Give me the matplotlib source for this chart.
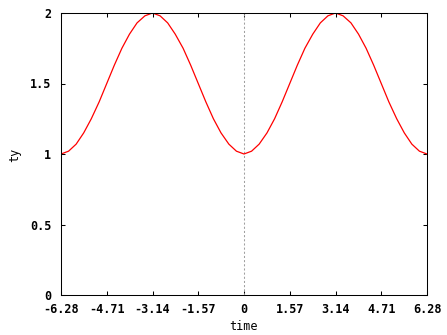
import matplotlib
matplotlib.use("Agg")
import matplotlib.pyplot as plt

# samples
time = [-6.28, -6.02, -5.76, -5.50, -5.24, -4.97, -4.71, -4.45, -4.19, -3.93, -3.67, -3.40,
        -3.14, -2.88, -2.62, -2.36, -2.09, -1.83, -1.57, -1.31, -1.05, -0.79, -0.52, -0.26,
        0.00, 0.26, 0.52, 0.79, 1.05, 1.31, 1.57, 1.83, 2.09, 2.36, 2.62, 2.88,
        3.14, 3.40, 3.67, 3.93, 4.19, 4.45, 4.71, 4.97, 5.24, 5.50, 5.76, 6.02, 6.28]
ty = [1.00, 1.02, 1.07, 1.15, 1.25, 1.37, 1.50, 1.63, 1.75, 1.85, 1.93, 1.98,
      2.00, 1.98, 1.93, 1.85, 1.75, 1.63, 1.50, 1.37, 1.25, 1.15, 1.07, 1.02,
      1.00, 1.02, 1.07, 1.15, 1.25, 1.37, 1.50, 1.63, 1.75, 1.85, 1.93, 1.98,
      2.00, 1.98, 1.93, 1.85, 1.75, 1.63, 1.50, 1.37, 1.25, 1.15, 1.07, 1.02, 1.00]

xticks = [-6.28, -4.71, -3.14, -1.57, 0, 1.57, 3.14, 4.71, 6.28]
xtick_labels = ["-6.28", "-4.71", "-3.14", "-1.57", "0", "1.57", "3.14", "4.71", "6.28"]
yticks = [0, 0.5, 1, 1.5, 2]
ytick_labels = ["0", "0.5", "1", "1.5", "2"]

plt.rcParams['font.family'] = ['DejaVu Sans Mono']
plt.rcParams['font.weight'] = 'bold'
plt.rcParams['font.size'] = 8.5

fig = plt.figure(figsize=(4.47, 3.35), dpi=100)
ax = fig.add_axes([61 / 447, 40 / 335, 366 / 447, 282 / 335])

# zero axis
ax.axvline(0, color="#a0a0a0", linewidth=0.75, dashes=(2, 2))
ax.plot(time, ty, color="#ff0000", linewidth=0.9)

ax.set_xlim(-6.28, 6.28)
ax.set_ylim(0, 2)
ax.set_xticks(xticks)
ax.set_xticklabels(xtick_labels)
ax.set_yticks(yticks)
ax.set_yticklabels(ytick_labels)
ax.tick_params(direction="in", length=3, width=0.75, top=True, right=True, pad=6)
ax.tick_params(axis="y", pad=7)
for s in ax.spines.values():
    s.set_linewidth(0.75)

ax.set_xlabel("time")
ax.set_ylabel("ty")
ax.xaxis.set_label_coords((243 - 61) / 366, (295 - 327) / 282)
ax.yaxis.set_label_coords((15 - 61) / 366, (295 - 155) / 282)
ax.xaxis.label.set_va("center")
ax.yaxis.label.set_va("center")

fig.savefig("out.png", dpi=100)
